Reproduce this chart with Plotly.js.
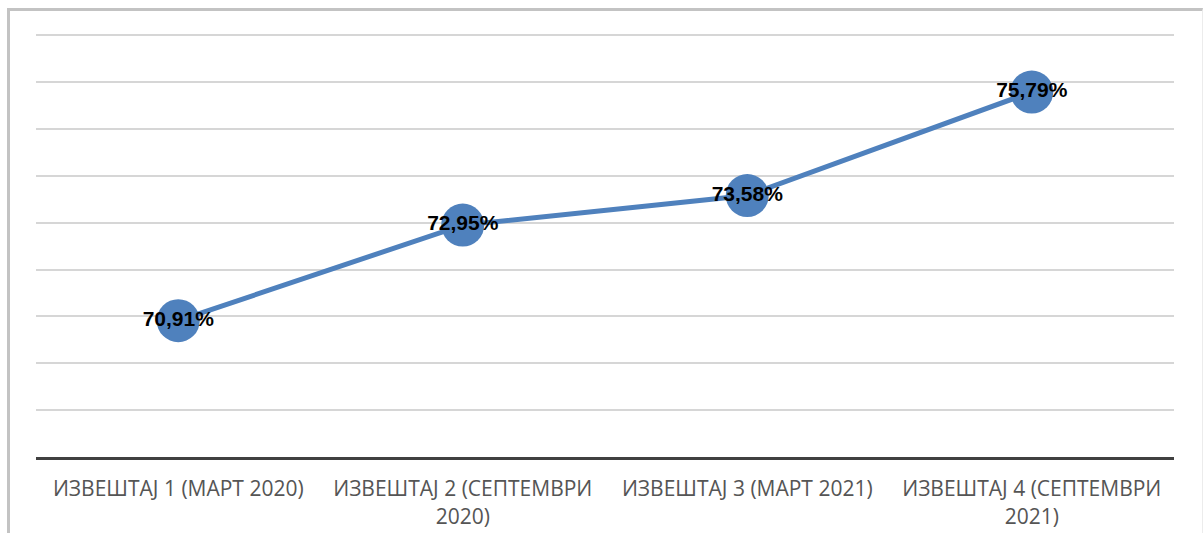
<!DOCTYPE html>
<html>
<head>
<meta charset="utf-8">
<script src="https://cdn.plot.ly/plotly-3.0.1.min.js"></script>
<style>
  html, body { margin: 0; padding: 0; background: #ffffff; }
  #wrap { position: relative; width: 1204px; height: 533px; overflow: hidden; }
  #chart { position: absolute; left: 0; top: 0; width: 1204px; height: 533px; }
  #frame { position: absolute; left: 7px; top: 8px; width: 1192px; height: 540px;
           border-top: 3px solid #c3c3c3; border-left: 3px solid #c3c3c3; border-right: 1px solid #ececec;
           pointer-events: none; }
</style>
</head>
<body>
<div id="wrap">
  <div id="chart"></div>
  <div id="frame"></div>
</div>
<script>
const categories = [
  "ИЗВЕШТАЈ 1 (МАРТ 2020)",
  "ИЗВЕШТАЈ 2 (СЕПТЕМВРИ<br>2020)",
  "ИЗВЕШТАЈ 3 (МАРТ 2021)",
  "ИЗВЕШТАЈ 4 (СЕПТЕМВРИ<br>2021)"
];
const values = [70.91, 72.95, 73.58, 75.79];
const labels = ["70,91%", "72,95%", "73,58%", "75,79%"];

const trace = {
  x: [0, 1, 2, 3],
  y: values,
  type: "scatter",
  mode: "lines+markers+text",
  line: { color: "#4f81bd", width: 5 },
  marker: { color: "#4f81bd", size: 43 },
  text: labels,
  textposition: "middle center",
  textfont: { family: "Liberation Sans, Arial, sans-serif", size: 21, color: "#000000", weight: "bold" },
  hoverinfo: "skip",
  cliponaxis: false
};

const layout = {
  width: 1204,
  height: 533,
  margin: { l: 36, r: 30, t: 33, b: 76 },
  paper_bgcolor: "rgba(0,0,0,0)",
  plot_bgcolor: "#ffffff",
  showlegend: false,
  xaxis: {
    range: [-0.5, 3.5],
    tickmode: "array",
    tickvals: [0, 1, 2, 3],
    ticktext: categories,
    showgrid: false,
    zeroline: false,
    showline: true,
    linecolor: "#404040",
    linewidth: 3,
    ticks: "",
    ticklabelstandoff: 11,
    tickfont: { family: "Open Sans, Liberation Sans, sans-serif", size: 21, color: "#555555" },
    fixedrange: true
  },
  yaxis: {
    range: [68, 77.05],
    dtick: 1,
    tick0: 68,
    showgrid: true,
    gridcolor: "#d6d6d6",
    gridwidth: 2,
    zeroline: false,
    showline: false,
    showticklabels: false,
    ticks: "",
    fixedrange: true
  }
};

Plotly.newPlot("chart", [trace], layout, { displayModeBar: false, staticPlot: true });
</script>
</body>
</html>
